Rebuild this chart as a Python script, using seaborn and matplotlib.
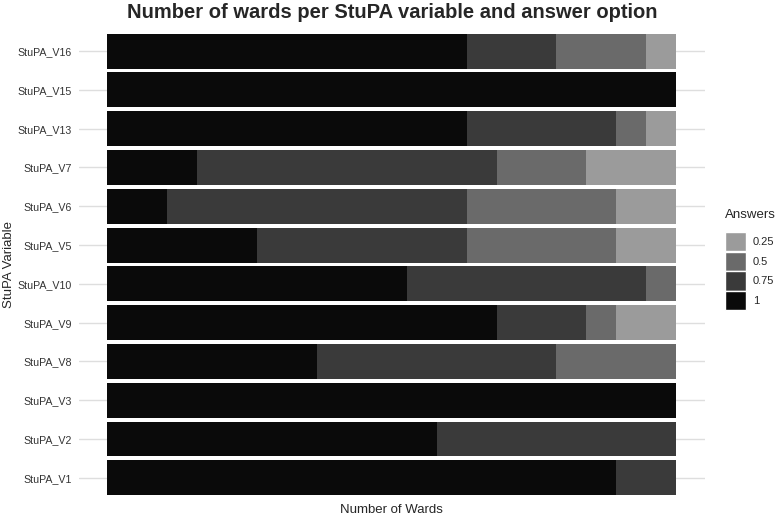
import matplotlib
matplotlib.use("Agg")
import numpy as np
import pandas as pd
import matplotlib.pyplot as plt
import seaborn as sns
from matplotlib.patches import Patch

# Data: counts of wards per variable and answer option
variables = ["StuPA_V16", "StuPA_V15", "StuPA_V13", "StuPA_V7", "StuPA_V6", "StuPA_V5",
             "StuPA_V10", "StuPA_V9", "StuPA_V8", "StuPA_V3", "StuPA_V2", "StuPA_V1"]
ans_1 = [12, 19, 12, 3, 2, 5, 10, 13, 7, 19, 11, 17]
ans_075 = [3, 0, 5, 10, 10, 7, 8, 3, 8, 0, 8, 2]
ans_05 = [3, 0, 1, 3, 5, 5, 1, 1, 4, 0, 0, 0]
ans_025 = [1, 0, 1, 3, 2, 2, 0, 2, 0, 0, 0, 0]

answer_labels = ["0.25", "0.5", "0.75", "1"]
answer_colors = {"0.25": "#9b9b9b", "0.5": "#6a6a6a", "0.75": "#3a3a3a", "1": "#0a0a0a"}

df = pd.DataFrame({"variable": variables, "1": ans_1, "0.75": ans_075,
                   "0.5": ans_05, "0.25": ans_025})
# cumulative widths so that stacking goes 1 -> 0.75 -> 0.5 -> 0.25 from the left
df["c1"] = df["1"]
df["c075"] = df["c1"] + df["0.75"]
df["c05"] = df["c075"] + df["0.5"]
df["c025"] = df["c05"] + df["0.25"]

sns.set_style("white")
plt.rcParams["font.family"] = ["Liberation Sans", "DejaVu Sans"]

fig = plt.figure(figsize=(7.77, 5.16), dpi=100)
ax = fig.add_axes([0.1017, 0.029, 0.805, 0.917])

for col, key in [("c025", "0.25"), ("c05", "0.5"), ("c075", "0.75"), ("c1", "1")]:
    sns.barplot(data=df, x=col, y="variable", order=variables, orient="h",
                color=answer_colors[key], saturation=1, width=0.9,
                linewidth=0, ax=ax, zorder=2)

total = df["c025"].max()
ax.set_xlim(-0.05 * total, total * 1.05)
ax.set_ylim(len(variables) - 0.4, -0.6)
ax.grid(axis="y", color="#dedede", linewidth=1, zorder=0)
ax.set_axisbelow(True)
ax.set_xticks([])
for s in ax.spines.values():
    s.set_visible(False)
ax.tick_params(axis="y", length=0, pad=5, labelsize=7.7, labelcolor="#333333")
ax.set_xlabel("Number of Wards", fontsize=9.5, labelpad=2)
ax.set_ylabel("StuPA Variable", fontsize=9.5)
ax.yaxis.set_label_coords(-0.102, 0.5)
ax.set_title("Number of wards per StuPA variable and answer option",
             fontsize=14.5, fontweight="bold", pad=7)

handles = [Patch(facecolor=answer_colors[k], edgecolor="white", linewidth=1) for k in answer_labels]
leg = fig.legend(handles, answer_labels, title="Answers", loc="upper left",
                 bbox_to_anchor=(725 / 777, 1 - 209 / 516), frameon=False, fontsize=8,
                 title_fontsize=9.5, handlelength=1.9, handleheight=2.3,
                 handletextpad=0.6, labelspacing=0.02, borderaxespad=0, borderpad=0)
leg._legend_box.align = "left"
leg._legend_box.sep = 8

fig.savefig("out.png", dpi=100)
